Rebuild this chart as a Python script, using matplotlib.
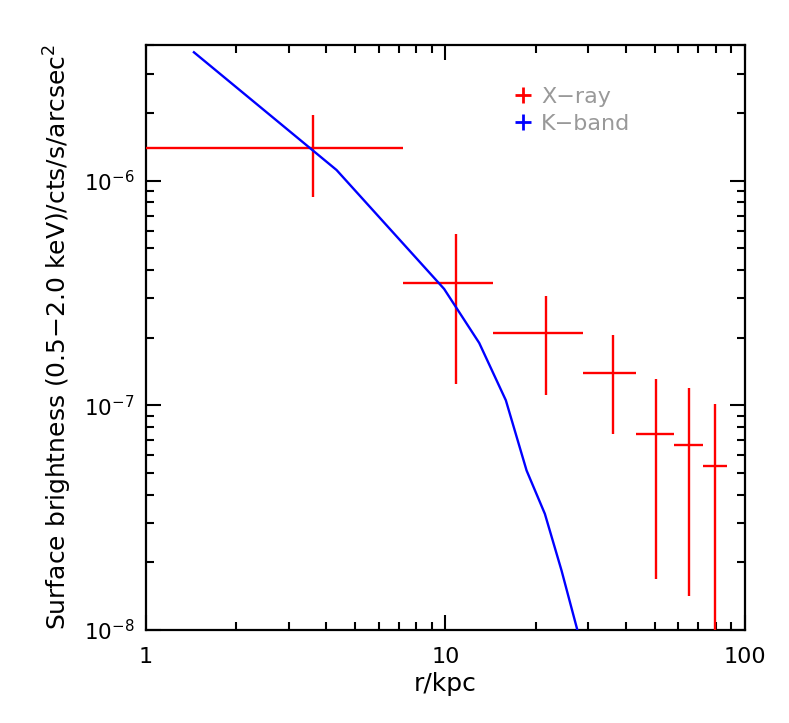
import numpy as np
import matplotlib
matplotlib.use("Agg")
import matplotlib.pyplot as plt
from matplotlib.lines import Line2D
from matplotlib.ticker import LogLocator, LogFormatterMathtext, NullFormatter

# X-ray surface brightness profile (bin centres, bin edges, value, errors)
xray_r = [3.60, 10.84, 21.66, 36.2, 50.6, 65.2, 79.6]
xray_r_lo = [0.5, 7.23, 14.45, 28.85, 43.4, 57.9, 72.4]
xray_r_hi = [7.23, 14.45, 28.85, 43.4, 57.9, 72.4, 86.9]
xray_sb = [1.40e-6, 3.52e-7, 2.09e-7, 1.40e-7, 7.45e-8, 6.68e-8, 5.35e-8]
xray_sb_hi = [1.96e-6, 5.78e-7, 3.07e-7, 2.065e-7, 1.315e-7, 1.194e-7, 1.013e-7]
xray_sb_lo = [8.49e-7, 1.249e-7, 1.108e-7, 7.42e-8, 1.68e-8, 1.415e-8, 5e-9]

# K-band profile
kband_r = [1.446, 4.33, 9.9, 12.97, 15.92, 18.67, 21.49, 24.43, 28.5]
kband_sb = [3.73e-6, 1.116e-6, 3.30e-7, 1.896e-7, 1.053e-7, 5.13e-8, 3.29e-8, 1.84e-8, 8.5e-9]

plt.rcParams["font.family"] = "DejaVu Sans"
plt.rcParams["font.size"] = 15

fig = plt.figure(figsize=(7.89, 7.23), dpi=100)
ax = fig.add_axes([0.185, 0.1286, 0.759, 0.8092])

xr = np.array(xray_r)
ys = np.array(xray_sb)
xerr = [xr - np.array(xray_r_lo), np.array(xray_r_hi) - xr]
yerr = [ys - np.array(xray_sb_lo), np.array(xray_sb_hi) - ys]
ax.errorbar(xr, ys, xerr=xerr, yerr=yerr, fmt="none", ecolor="red",
            elinewidth=1.7, capsize=0, zorder=3)
ax.plot(kband_r, kband_sb, color="blue", linewidth=1.7, zorder=4)

ax.set_xscale("log")
ax.set_yscale("log")
ax.set_xlim(1, 100)
ax.set_ylim(1e-8, 4.02e-6)

ax.xaxis.set_major_locator(LogLocator(base=10))
ax.xaxis.set_major_formatter(plt.FuncFormatter(lambda v, p: "%g" % v))
ax.xaxis.set_minor_formatter(NullFormatter())
ax.yaxis.set_major_formatter(LogFormatterMathtext())
ax.yaxis.set_minor_formatter(NullFormatter())

ax.tick_params(which="both", direction="in", top=True, right=True, width=1.5)
ax.tick_params(which="major", length=11)
ax.tick_params(which="minor", length=6)
ax.tick_params(axis="x", which="major", pad=12, labelsize=16)
ax.tick_params(axis="y", which="major", pad=8, labelsize=15.5)
for spine in ax.spines.values():
    spine.set_linewidth(1.6)

ax.set_xlabel("r/kpc", labelpad=4, fontsize=18)
ax.set_ylabel("Surface brightness (0.5\u22122.0 keV)/cts/s/arcsec$^2$",
              labelpad=7, fontsize=18)

handles = [Line2D([], [], color="red", marker="+", linestyle="none", markersize=11, mew=2),
           Line2D([], [], color="blue", marker="+", linestyle="none", markersize=11, mew=2)]
ax.legend(handles, ["X\u2212ray", "K\u2212band"], loc="upper left",
          bbox_to_anchor=(0.617, 0.928), frameon=False, handlelength=0.7,
          handletextpad=0.45, labelspacing=0.3, borderpad=0, borderaxespad=0,
          fontsize=16, labelcolor="#999999")

plt.savefig("out.png", dpi=100)
